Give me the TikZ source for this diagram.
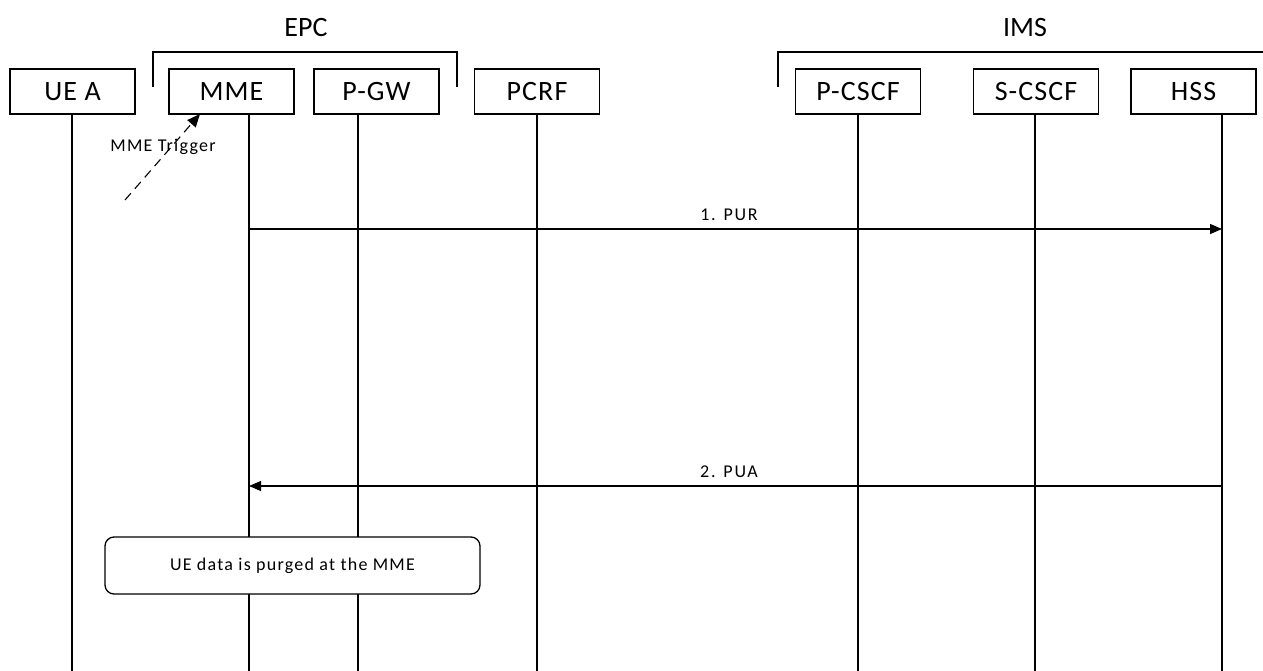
\documentclass[tikz,border=0pt]{standalone}
\usepackage{fontspec}
\setmainfont{Carlito}
\newfontfamily\bigsp[LetterSpace=4]{Carlito}
\newfontfamily\smallsp[LetterSpace=7]{Carlito}
\newfontfamily\msgsp[LetterSpace=10]{Carlito}
\usetikzlibrary{arrows.meta}
\begin{document}
\begin{tikzpicture}[x=1pt,y=-1pt,
  entity/.style={draw,line width=1.3pt,minimum width=125pt,minimum height=45pt,inner sep=0pt,font=\bigsp\fontsize{28}{30}\selectfont},
  life/.style={line width=1.1pt},
  msg/.style={line width=1.1pt,-{Triangle[length=12pt,width=10pt]}},
  lbl/.style={font=\smallsp\fontsize{18}{20}\selectfont},
  mlbl/.style={font=\msgsp\fontsize{18}{20}\selectfont},
  grp/.style={font=\fontsize{28}{30}\selectfont}]
\useasboundingbox (0,0) rectangle (1263,671);
% entities
\node[entity] (ue) at (72.5,91.5) {UE A};
\node[entity] (mme) at (231.5,91.5) {MME};
\node[entity] (pgw) at (376.5,91.5) {P-GW};
\node[entity] (pcrf) at (537,91.5) {PCRF};
\node[entity] (pcscf) at (858,91.5) {P-CSCF};
\node[entity] (scscf) at (1036,91.5) {S-CSCF};
\node[entity] (hss) at (1193.5,91.5) {HSS};
% lifeline ends
\coordinate (ueE) at (72,671);
\coordinate (mmeE) at (249,671);
\coordinate (pgwE) at (358,671);
\coordinate (pcrfE) at (537,671);
\coordinate (pcscfE) at (858,671);
\coordinate (scscfE) at (1035,671);
\coordinate (hssE) at (1222,671);
\draw[life] (ue.south -| ueE) -- (ueE);
\draw[life] (mme.south -| mmeE) -- (mmeE);
\draw[life] (pgw.south -| pgwE) -- (pgwE);
\draw[life] (pcrf.south -| pcrfE) -- (pcrfE);
\draw[life] (pcscf.south -| pcscfE) -- (pcscfE);
\draw[life] (scscf.south -| scscfE) -- (scscfE);
\draw[life] (hss.south -| hssE) -- (hssE);
% groups
\node[grp] (epc) at (306,28) {EPC};
\node[grp] (ims) at (1025,28) {IMS};
\draw[line width=1.3pt] (153,87) -- (153,52) -- (457,52) -- (457,87);
\draw[line width=1.3pt] (778,87) -- (778,52) -- (1263,52);
% trigger
\coordinate (trig) at (125,200);
\draw[line width=1.1pt,dashed,dash pattern=on 9pt off 6pt,-{Triangle[length=13pt,width=11pt]}] (trig) -- (200,114);
\node[lbl] (trigl) at (163,147) {MME Trigger};
% messages
\coordinate (m1a) at (249,229);
\coordinate (m1b) at (1222,229);
\draw[msg] (m1a) -- (m1b);
\node[mlbl] (l1) at (729,215) {1. PUR};
\coordinate (m2a) at (1222,486);
\coordinate (m2b) at (249,486);
\draw[msg] (m2a) -- (m2b);
\node[mlbl] (l2) at (729,472) {2. PUA};
% box
\node[draw,fill=white,line width=1.3pt,rounded corners=9pt,minimum width=375pt,minimum height=57pt,lbl] (purge) at (292.5,565.5) {UE data is purged at the MME};
\end{tikzpicture}
\end{document}
